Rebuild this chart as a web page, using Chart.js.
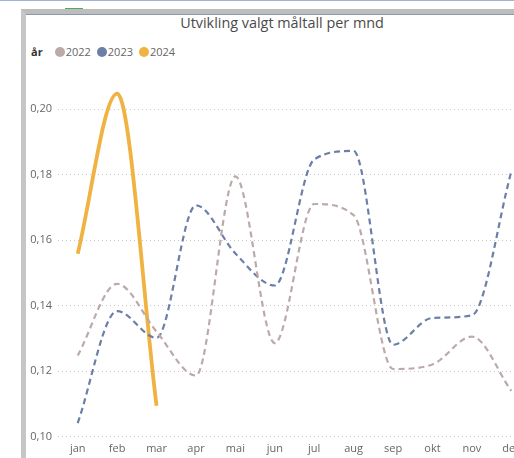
<!DOCTYPE html>
<html>
<head>
<meta charset="utf-8">
<script src="https://cdn.jsdelivr.net/npm/chart.js@4"></script>
<style>
  html, body { margin: 0; padding: 0; width: 514px; height: 458px; overflow: hidden; background: #fff; }
  body { position: relative; font-family: "Open Sans", "Noto Sans", sans-serif; }
  #topline { position: absolute; left: 0; top: 0; width: 514px; height: 1px; background: #9fb3d6; }
  #greenmark { position: absolute; left: 65px; top: 8px; width: 18px; height: 2px; background: #4cae5a; }
  #frame { position: absolute; left: 21px; top: 9px; width: 600px; height: 460px;
           border-top: 5px solid #bdbdbd; border-left: 5px solid #c6c6c6; box-sizing: border-box; }
  #frame::before { content: ""; position: absolute; left: 0; right: 0; top: 0; height: 1px; background: #8a98ad; }
  #title { position: absolute; left: 0; width: 564px; top: 13px; text-align: center;
           font-size: 14.4px; color: #4a4a4a; }
  #legend { position: absolute; left: 31px; top: 44px; font-size: 11px; color: #666; display: flex; align-items: center; }
  #legend b { color: #333; margin-right: 12px; }
  #legend span.dot { display: inline-block; width: 10px; height: 10px; border-radius: 50%; margin-right: 1px; }
  #legend span.item { margin-right: 6px; }
  #wrap { position: absolute; left: 0; top: 64px; width: 540px; height: 396px; }
</style>
</head>
<body>
<div id="topline"></div>
<div id="greenmark"></div>
<div id="frame"></div>
<div id="title">Utvikling valgt måltall per mnd</div>
<div id="legend"></div>
<div id="wrap"><canvas id="chart"></canvas></div>
<script>
// --- data ---
const months = ['jan', 'feb', 'mar', 'apr', 'mai', 'jun', 'jul', 'aug', 'sep', 'okt', 'nov', 'des'];
const years = ['2022', '2023', '2024'];
const colors = ['#bcaaa9', '#6b7fa8', '#f0b241'];

const v2022 = [0.1248, 0.1467, 0.1321, 0.1187, 0.1795, 0.1286, 0.1711, 0.1677, 0.1207, 0.1221, 0.1306, 0.1140];
const v2023 = [0.1042, 0.1384, 0.1302, 0.1707, 0.1560, 0.1462, 0.1847, 0.1873, 0.1281, 0.1363, 0.1371, 0.1810];
const v2024 = [0.1559, 0.2048, 0.1095];

const yTicks = [0.10, 0.12, 0.14, 0.16, 0.18, 0.20];

// legend (html, because of the bold "år" prefix)
const legend = document.getElementById('legend');
legend.innerHTML = '<b>år</b>' + years.map((y, i) =>
    `<span class="dot" style="background:${colors[i]}"></span><span class="item">${y}</span>`).join('');

const fmt = v => v.toFixed(2).replace('.', ',');

new Chart(document.getElementById('chart'), {
    type: 'line',
    data: {
        labels: months,
        datasets: [
            { label: years[0], data: v2022, borderColor: colors[0], borderWidth: 2.2, borderDash: [6, 4] },
            { label: years[1], data: v2023, borderColor: colors[1], borderWidth: 2.2, borderDash: [6, 4] },
            { label: years[2], data: v2024, borderColor: colors[2], borderWidth: 3.8 }
        ]
    },
    options: {
        responsive: true,
        maintainAspectRatio: false,
        animation: false,
        layout: { padding: { top: 10, right: 9, bottom: 0, left: 0 } },
        elements: {
            point: { radius: 0 },
            line: { cubicInterpolationMode: 'monotone', fill: false, borderCapStyle: 'butt' }
        },
        scales: {
            x: {
                offset: true,
                grid: { display: false, drawTicks: false },
                border: { display: false },
                ticks: { color: '#666', font: { family: 'Open Sans', size: 11 }, padding: 5, maxRotation: 0, autoSkip: false }
            },
            y: {
                min: 0.10,
                max: 0.21,
                afterBuildTicks: s => { s.ticks = yTicks.map(v => ({ value: v })); },
                afterFit: s => { s.width = 58; },
                grid: { color: '#c8c8c8', lineWidth: 1, drawTicks: false },
                border: { display: false, dash: [1, 3] },
                ticks: { color: '#666', font: { family: 'Open Sans', size: 11 }, padding: 6, callback: v => fmt(v) }
            }
        },
        plugins: {
            legend: { display: false },
            tooltip: { enabled: false }
        }
    }
});
</script>
</body>
</html>
